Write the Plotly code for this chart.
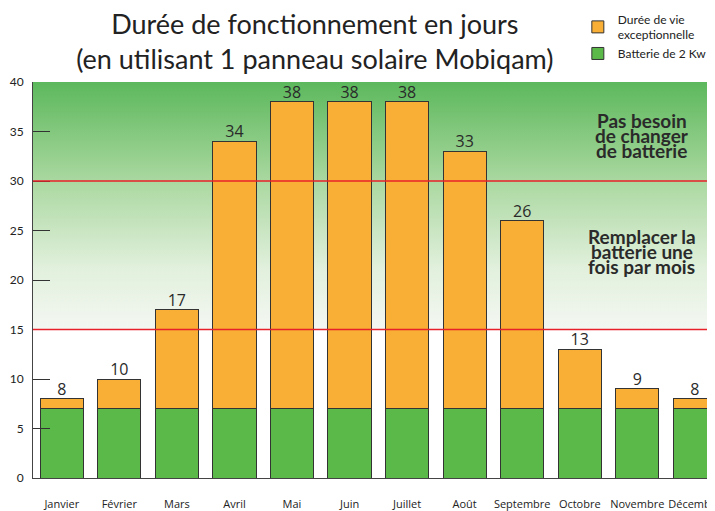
import plotly.graph_objects as go

months = ["Janvier", "Février", "Mars", "Avril", "Mai", "Juin", "Juillet",
          "Août", "Septembre", "Octobre", "Novembre", "Décembre"]
totals = [8, 10, 17, 34, 38, 38, 38, 33, 26, 13, 9, 8]
battery = [7, 7, 7, 7, 7, 7, 7, 7, 7, 7, 7, 7]
extra = [t - b for t, b in zip(totals, battery)]
thresholds = [15, 30]
y_ticks = [0, 5, 10, 15, 20, 25, 30, 35, 40]
note_top = ["Pas besoin", "de changer", "de batterie"]
note_mid = ["Remplacer la", "batterie une", "fois par mois"]

xs = list(range(len(months)))
x_lo, x_hi = -0.5, 11.35
y_lo, y_hi = 0, 40

fig = go.Figure()

# gradient background zone (bottom layer, main axes)
fig.add_trace(go.Scatter(
    x=[x_lo, x_hi, x_hi, x_lo, x_lo], y=[15, 15, 40, 40, 15],
    mode="lines", line=dict(width=0), fill="toself",
    fillgradient=dict(type="vertical", colorscale=[
        [0.0, "rgb(244,247,242)"], [0.25, "rgb(225,240,220)"],
        [0.6, "rgb(170,216,160)"], [1.0, "rgb(92,184,92)"]]),
    hoverinfo="skip", showlegend=False, xaxis="x", yaxis="y"))

fig.add_trace(go.Bar(
    x=xs, y=battery, name="Batterie de 2 Kw",
    marker=dict(color="#5BB94A", line=dict(color="#333333", width=1)),
    width=0.75, xaxis="x2", yaxis="y2"))
fig.add_trace(go.Bar(
    x=xs, y=extra, name="Durée de vie<br>exceptionnelle",
    marker=dict(color="#F9AF35", line=dict(color="#333333", width=1)),
    width=0.75, xaxis="x2", yaxis="y2"))

fig.add_trace(go.Scatter(
    x=xs, y=totals, mode="text", text=[str(t) for t in totals],
    textposition="top center",
    textfont=dict(family="Open Sans", size=16, color="#2a2a2a"),
    hoverinfo="skip", showlegend=False, xaxis="x2", yaxis="y2"))

for t in thresholds:
    fig.add_shape(type="line", xref="paper", x0=0, x1=1, yref="y", y0=t, y1=t,
                  line=dict(color="#E8202A", width=1.5), layer="above")

for lines, yc in ((note_top, 34.6), (note_mid, 22.9)):
    for i, line in enumerate(lines):
        fig.add_annotation(x=10.08, y=yc, xref="x", yref="y", yshift=(1 - i) * 15,
                           text="<b>" + line + "</b>", showarrow=False,
                           font=dict(family="Lato", size=19, color="#2a2a2a", weight=900))

fig.update_layout(
    width=707, height=503,
    margin=dict(l=25, r=0, t=74, b=33, autoexpand=False),
    paper_bgcolor="white", plot_bgcolor="white",
    barmode="stack", bargap=0.25,
    title=dict(text="Durée de fonctionnement en jours<br>(en utilisant 1 panneau solaire Mobiqam)",
               x=0.434, xref="container", xanchor="center",
               y=0.949, yref="container", yanchor="middle",
               font=dict(family="Lato", size=27, color="#222222")),
    legend=dict(x=0.806, y=1.195, xref="container", yref="paper",
                xanchor="left", yanchor="top", traceorder="reversed",
                font=dict(family="Lato", size=12, color="#222222"),
                tracegroupgap=2, bgcolor="rgba(0,0,0,0)", itemwidth=30),
    showlegend=True,
    font=dict(family="Open Sans", color="#222222"),
    xaxis=dict(range=[x_lo, x_hi], tickmode="array", tickvals=xs, ticktext=months,
               showgrid=False, zeroline=False, showline=True, linecolor="#444444",
               ticks="", ticklabelstandoff=16, tickangle=0, ticklabeloverflow="allow",
               tickfont=dict(family="Open Sans", size=11, color="#222222")),
    yaxis=dict(range=[y_lo, y_hi], tickmode="array", tickvals=y_ticks,
               showgrid=False, zeroline=False, showline=True, linecolor="#444444",
               ticks="inside", ticklen=17, tickcolor="#333333",
               ticklabelstandoff=6,
               tickfont=dict(family="Lato", size=12, color="#222222")),
    xaxis2=dict(range=[x_lo, x_hi], overlaying="x", visible=False),
    yaxis2=dict(range=[y_lo, y_hi], overlaying="y", visible=False),
)

fig.write_html("out.html")
